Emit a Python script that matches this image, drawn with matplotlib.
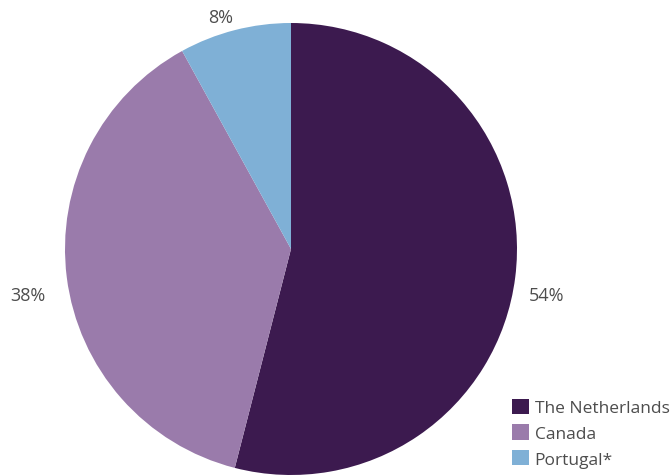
import matplotlib
matplotlib.use("Agg")
import matplotlib.pyplot as plt
import numpy as np

countries = ["The Netherlands", "Canada", "Portugal*"]
shares = [54, 38, 8]
colors = ["#3c1a4f", "#9a7bab", "#7fb0d6"]
# label offsets from the pie centre, in radius units
label_offsets = [(1.133, -0.204), (-1.164, -0.204), (-0.31, 1.027)]

plt.rcParams['font.family'] = ['Open Sans', 'DejaVu Sans']

fig = plt.figure(figsize=(6.71, 4.77), dpi=100)
ax = fig.add_axes([0, 0, 1, 1])

cx, cy, r = 291, 227, 226
wedges, texts = ax.pie(
    shares, colors=colors, startangle=90, counterclock=False,
    center=(cx, cy), radius=r,
    wedgeprops=dict(linewidth=0), frame=True)

for s, (ox, oy) in zip(shares, label_offsets):
    ax.text(cx + ox * r, cy + oy * r, f"{s}%",
            ha='center', va='center', color='#4d4d4d', fontsize=13)

ax.set_xlim(0, 671)
ax.set_ylim(0, 477)
ax.set_aspect('equal')
ax.axis('off')

leg = ax.legend(wedges, countries, loc='lower right', bbox_to_anchor=(1.021, -0.015),
                frameon=False, fontsize=12.5, handlelength=1.0, handleheight=1.0,
                handletextpad=0.3, labelspacing=0.45, labelcolor='#4d4d4d')

fig.savefig("out.png", dpi=100)
